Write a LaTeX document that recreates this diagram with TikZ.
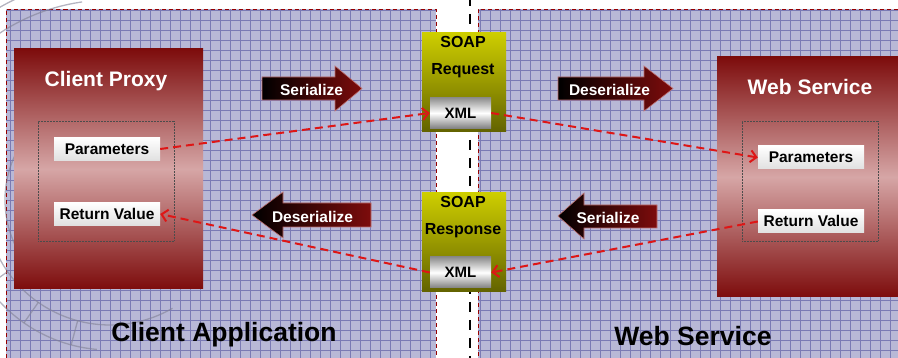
\documentclass[tikz,border=0pt]{standalone}
\usepackage{fontspec}
\setmainfont{Liberation Sans}
\usetikzlibrary{arrows.meta,positioning}
\definecolor{wsmaroon}{RGB}{125,12,12}
\definecolor{wspink}{RGB}{214,166,166}
\definecolor{wslav}{RGB}{184,184,214}
\definecolor{wsgrid}{RGB}{122,122,180}
\definecolor{wsborder}{RGB}{150,0,0}
\definecolor{wsyellow}{RGB}{206,206,0}
\definecolor{wsolive}{RGB}{98,98,0}
\definecolor{wsred}{RGB}{222,22,22}
\definecolor{wsbevel}{RGB}{190,110,110}
\definecolor{wsmark}{RGB}{130,130,150}

\tikzset{
  panel/.style={draw=wsborder, line width=0.9pt, dash pattern=on 4pt off 3pt},
  gridline/.style={draw=wsgrid, line width=0.7pt},
  wmark/.style={draw=wsmark, line width=1.3pt, opacity=0.6},
  redbox/.style={top color=wsmaroon, bottom color=wsmaroon, middle color=wspink,
    minimum width=189pt, minimum height=240pt, inner sep=0},
  dotbox/.style={draw=black!70, densely dotted, line width=0.5pt,
    minimum width=136pt, minimum height=120pt, inner sep=0},
  soapbox/.style={top color=wsyellow, bottom color=wsolive,
    minimum width=84pt, minimum height=99pt, inner sep=0},
  xmlbox/.style={top color=black!45, bottom color=black!50, middle color=white,
    minimum width=61pt, minimum height=31pt, inner sep=0,
    font=\fontsize{15}{15}\selectfont\bfseries, text height=11pt, text depth=0pt},
  lblbox/.style={top color=white, bottom color=black!12,
    minimum width=106pt, minimum height=23pt, inner sep=0,
    font=\fontsize{15.5}{15.5}\selectfont\bfseries, text height=11pt, text depth=0pt},
  boxtitle/.style={white, inner sep=0, font=\fontsize{21}{21}\selectfont\bfseries,
    text height=15pt, text depth=0pt},
  soaptext/.style={inner sep=0, align=center,
    font=\fontsize{16}{27}\selectfont\bfseries},
  arrowtext/.style={white, inner sep=0, font=\fontsize{15.5}{15.5}\selectfont\bfseries,
    text height=11pt, text depth=0pt},
  blockarrow/.style={left color=black, right color=wsmaroon, draw=wsbevel, line width=0.6pt},
  conn/.style={draw=wsred, line width=2pt, dash pattern=on 8pt off 5pt,
    -{Straight Barb[length=6pt,width=12pt]}},
  areatext/.style={inner sep=0, font=\fontsize{26.5}{26.5}\selectfont\bfseries,
    text height=19pt, text depth=0pt}
}

\begin{document}
\begin{tikzpicture}[x=1pt, y=-1pt]
  \useasboundingbox (0,0) rectangle (898,358);
  \clip (0,0) rectangle (898,358);
  % divider
  \draw[line width=2.6pt, dash pattern=on 10pt off 8pt] (470,-4) -- (470,362);
  % two areas
  \fill[wslav] (6,9.5) rectangle (436,365);
  \fill[wslav] (478,9.5) rectangle (905,365);
  \draw[gridline] (6,9.5) grid[step=10pt] (436,365);
  \draw[gridline] (478,9.5) grid[step=10pt] (905,365);
  \draw[panel] (6,365) -- (6,9.5) -- (436,9.5) -- (436,365);
  \draw[panel] (905,9.5) -- (478,9.5) -- (478,365);
  % watermark
  \draw[wmark] (110,200) ++(205:200) arc[start angle=205, end angle=262, radius=200];
  \draw[wmark] (110,200) ++(210:222) arc[start angle=210, end angle=255, radius=222];
  \draw[wmark] (110,200) ++(130:105) arc[start angle=130, end angle=250, radius=105];
  \draw[wmark] (110,200) ++(95:150) arc[start angle=95, end angle=175, radius=150];
  \draw[wmark] (110,200) ++(60:125) arc[start angle=60, end angle=170, radius=125];
  \foreach \a in {105,125,145,165}
    \draw[wmark] (110,200) ++(\a:125) -- ++(\a:25);

  % client side
  \node[redbox] (proxy) at (108.5,169) {};
  \node[boxtitle] (proxytitle) at (106,79.5) {Client Proxy};
  \node[dotbox] (proxyargs) at (106,181) {};
  \node[lblbox] (cpar) at (107,149) {Parameters};
  \node[lblbox] (cret) at (107,214) {Return Value};

  % service side
  \node[redbox] (service) at (811.5,177) {};
  \node[boxtitle] (servicetitle) at (810,87.5) {Web Service};
  \node[dotbox] (serviceargs) at (810,181) {};
  \node[lblbox] (wpar) at (811,157.5) {Parameters};
  \node[lblbox] (wret) at (811,221.5) {Return Value};

  % soap messages
  \node[soapbox] (soapreq) at (464,82.5) {};
  \node[soaptext] (reqtext) at (463,57) {SOAP\\Request};
  \node[xmlbox] (xreq) at (460.5,113) {XML};
  \node[soapbox] (soapres) at (464,242.5) {};
  \node[soaptext] (restext) at (463,217) {SOAP\\Response};
  \node[xmlbox] (xres) at (460.5,272.5) {XML};

  % block arrows
  \shade[blockarrow] (262,77) -- (335,77) -- (335,66) -- (362,88.5) -- (335,111) -- (335,100) -- (262,100) -- cycle;
  \shade[blockarrow] (558,77) -- (644,77) -- (644,66) -- (673,88.5) -- (644,111) -- (644,100) -- (558,100) -- cycle;
  \shade[blockarrow] (252,215) -- (283,192) -- (283,203) -- (371,203) -- (371,227) -- (283,227) -- (283,238) -- cycle;
  \shade[blockarrow] (558,216) -- (584,193) -- (584,205) -- (657,205) -- (657,228) -- (584,228) -- (584,239) -- cycle;
  \node[arrowtext] (ser1) at (311.5,90) {Serialize};
  \node[arrowtext] (deser1) at (609.5,90.5) {Deserialize};
  \node[arrowtext] (deser2) at (312.5,217) {Deserialize};
  \node[arrowtext] (ser2) at (608,218) {Serialize};

  % message flow
  \draw[conn] (cpar.east) -- (xreq.west);
  \draw[conn] (xreq.east) -- (wpar.west);
  \draw[conn] (wret.west) -- (xres.east);
  \draw[conn] (xres.west) -- (cret.east);

  % area names
  \node[areatext] (clientname) at (224,332.5) {Client Application};
  \node[areatext] (servicename) at (693,335.5) {Web Service};
\end{tikzpicture}
\end{document}
